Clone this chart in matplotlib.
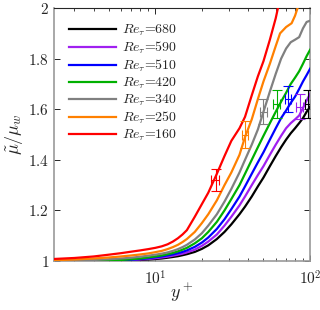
import numpy as np
import matplotlib
matplotlib.use("Agg")
import matplotlib.pyplot as plt
from matplotlib.ticker import FuncFormatter, FixedLocator, LogLocator, NullFormatter

plt.rcParams['mathtext.fontset'] = 'cm'
plt.rcParams['font.family'] = 'serif'
plt.rcParams['font.serif'] = ['DejaVu Serif']

labels = [r'$Re_\tau$=680', r'$Re_\tau$=590', r'$Re_\tau$=510',
          r'$Re_\tau$=420', r'$Re_\tau$=340', r'$Re_\tau$=250',
          r'$Re_\tau$=160']
colors = ['#000000', '#a020f0', '#0000ff', '#00b000', '#808080', '#ff8000', '#ff0000']

yp = [2.2, 3, 4, 5, 6, 7, 8, 9, 10, 11, 12, 13, 14, 15, 16, 18, 20, 22, 25, 28, 31,
      35, 38, 42, 46, 50, 55, 60, 65, 70, 75, 80, 85, 90, 95, 100]
mu_black = [1.0, 1.0, 1.0, 1.0, 1.0, 1.002, 1.004, 1.006, 1.008, 1.01, 1.013, 1.016,
            1.019, 1.023, 1.027, 1.036, 1.048, 1.062, 1.087, 1.115, 1.145, 1.185, 1.215,
            1.255, 1.295, 1.33, 1.375, 1.415, 1.45, 1.48, 1.505, 1.525, 1.545, 1.565,
            1.59, 1.61]
mu_purple = [1.0, 1.0, 1.0, 1.0, 1.002, 1.004, 1.006, 1.008, 1.011, 1.014, 1.017, 1.021,
             1.025, 1.029, 1.034, 1.045, 1.06, 1.077, 1.105, 1.14, 1.175, 1.22, 1.255,
             1.3, 1.34, 1.375, 1.42, 1.46, 1.495, 1.525, 1.545, 1.56, 1.575, 1.605,
             1.635, 1.66]
mu_blue = [1.0, 1.0, 1.0, 1.001, 1.003, 1.005, 1.008, 1.011, 1.015, 1.018, 1.022, 1.026,
           1.031, 1.036, 1.042, 1.056, 1.073, 1.093, 1.127, 1.165, 1.205, 1.255, 1.295,
           1.345, 1.39, 1.43, 1.48, 1.525, 1.565, 1.595, 1.625, 1.65, 1.68, 1.71,
           1.735, 1.76]
mu_green = [1.0, 1.0, 1.0, 1.002, 1.004, 1.007, 1.01, 1.014, 1.018, 1.022, 1.027, 1.032,
            1.038, 1.045, 1.052, 1.07, 1.09, 1.115, 1.155, 1.2, 1.245, 1.3, 1.345, 1.4,
            1.45, 1.495, 1.545, 1.59, 1.63, 1.665, 1.7, 1.725, 1.75, 1.78, 1.81, 1.835]
mu_gray = [1.0, 1.002, 1.004, 1.007, 1.01, 1.013, 1.017, 1.021, 1.025, 1.029, 1.034, 1.04,
           1.047, 1.055, 1.064, 1.085, 1.11, 1.14, 1.185, 1.235, 1.285, 1.35, 1.4, 1.46,
           1.52, 1.59, 1.67, 1.74, 1.8, 1.84, 1.865, 1.875, 1.885, 1.92, 1.945, 1.95]
yp_orange = [2.2, 3, 4, 5, 6, 7, 8, 9, 10, 11, 12, 13, 14, 15, 16, 18, 20, 22, 25, 28,
             31, 35, 38, 42, 46, 50, 55, 60, 64, 70, 76, 80, 83]
mu_orange = [1.003, 1.006, 1.01, 1.014, 1.018, 1.022, 1.026, 1.03, 1.035, 1.04, 1.047,
             1.055, 1.064, 1.075, 1.087, 1.115, 1.15, 1.185, 1.24, 1.3, 1.35, 1.42, 1.49,
             1.56, 1.64, 1.71, 1.78, 1.85, 1.9, 1.925, 1.94, 1.97, 2.0]
yp_red = [2.2, 3, 4, 5, 6, 7, 8, 9, 10, 11, 12, 13, 14, 15, 16, 18, 20, 22, 25, 28, 31,
          35, 38, 42, 46, 50, 55, 60, 62]
mu_red = [1.008, 1.012, 1.018, 1.025, 1.031, 1.037, 1.042, 1.047, 1.052, 1.058, 1.066,
          1.077, 1.09, 1.105, 1.122, 1.175, 1.225, 1.27, 1.345, 1.415, 1.475, 1.525,
          1.57, 1.655, 1.73, 1.79, 1.875, 1.96, 2.0]

# error bar data (black..red)
eb_yp = [97, 86, 72, 61, 50, 38, 24.5]
eb_mu = [1.62, 1.61, 1.64, 1.62, 1.59, 1.50, 1.32]
eb_dmu = [0.055, 0.05, 0.05, 0.055, 0.05, 0.055, 0.045]
eb_dyp_frac = [0.05, 0.05, 0.05, 0.05, 0.05, 0.05, 0.06]

series = [(yp, mu_black), (yp, mu_purple), (yp, mu_blue), (yp, mu_green),
          (yp, mu_gray), (yp_orange, mu_orange), (yp_red, mu_red)]

fig = plt.figure(figsize=(3.2, 3.1), dpi=100)
ax = fig.add_axes([0.169, 0.158, 0.800, 0.816])

for (x, y), c, lab in zip(series, colors, labels):
    ax.plot(x, y, color=c, lw=1.6, label=lab, zorder=3, solid_joinstyle='round')

for i in range(len(eb_yp)):
    xe = eb_yp[i] * eb_dyp_frac[i]
    ax.errorbar(eb_yp[i], eb_mu[i], yerr=eb_dmu[i], xerr=xe, color=colors[i],
                lw=0.8, capsize=3.5, capthick=0.8, zorder=4)

ax.set_xscale('log')
ax.set_xlim(2.22, 100)
ax.set_ylim(1, 2)
ax.yaxis.set_major_locator(FixedLocator([1, 1.2, 1.4, 1.6, 1.8, 2]))
ax.yaxis.set_major_formatter(FuncFormatter(lambda v, p: r'$%g$' % v))
ax.xaxis.set_major_locator(FixedLocator([10, 100]))
ax.xaxis.set_major_formatter(FuncFormatter(lambda v, p: r'$10^{%d}$' % int(round(np.log10(v)))))
ax.xaxis.set_minor_locator(LogLocator(base=10, subs=np.arange(2, 10)))
ax.xaxis.set_minor_formatter(NullFormatter())

ax.tick_params(which='both', direction='in', top=True, right=True, labelsize=11,
               colors='#262626')
ax.tick_params(axis='x', pad=6)
ax.tick_params(which='major', length=4, width=0.7)
ax.tick_params(which='minor', length=2.5, width=0.6)
for s in ['left', 'bottom', 'right']:
    ax.spines[s].set_color('#9a9a9a')
    ax.spines[s].set_linewidth(1.2)
ax.spines['top'].set_color('#262626')
ax.spines['top'].set_linewidth(0.8)

ax.set_xlabel(r'$y^+$', fontsize=13, color='#262626')
ax.xaxis.set_label_coords(0.5, -0.08)
ax.set_ylabel(r'$\tilde{\mu}/\mu_w$', fontsize=13, color='#262626', labelpad=2)

leg = ax.legend(loc='upper left', frameon=False, handlelength=3.4,
                prop={'family': ['cmr10', 'DejaVu Serif'], 'size': 10},
                handletextpad=0.4, labelspacing=0.12, borderaxespad=0.3,
                bbox_to_anchor=(0.02, 0.98))
for t in leg.get_texts():
    t.set_color('#262626')

fig.savefig('out.png', dpi=100)
